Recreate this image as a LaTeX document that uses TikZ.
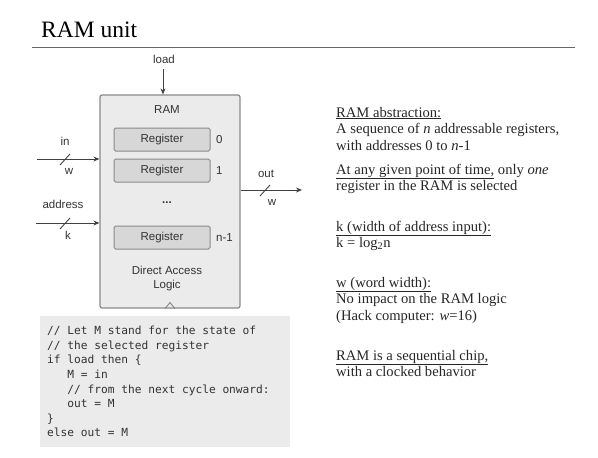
\documentclass[tikz,border=0pt]{standalone}
\usepackage{fontspec}
\setmainfont{Liberation Serif}
\newfontfamily\labelfont{Liberation Sans}
\newfontfamily\codefont{DejaVu Sans Mono}
\usetikzlibrary{arrows.meta}
\definecolor{boxfill}{HTML}{EBEBEB}
\definecolor{regfill}{HTML}{D7D7D7}
\definecolor{boxline}{HTML}{8A8A8A}
\definecolor{wirecol}{HTML}{404040}
\definecolor{lblcol}{HTML}{333333}
\newcommand{\noteblock}[1]{\begin{tabular}[t]{@{}l@{}}#1\end{tabular}}
\newcommand{\monospaces}{\spaceskip=0.602em\xspaceskip=0.602em\relax}
\tikzset{
  lbl/.style={font=\labelfont\fontsize{11.5}{13}\selectfont, text=lblcol, inner sep=0pt},
  regbox/.style={draw=boxline, fill=regfill, line width=1pt, rounded corners=1.5pt,
    minimum width=96pt, minimum height=23pt, lbl},
  wire/.style={draw=wirecol, line width=0.9pt, -{Stealth[length=6pt,width=5pt]}},
  slash/.style={draw=wirecol, line width=0.9pt},
  note/.style={font=\fontsize{14.6}{16.5}\selectfont, text=black!85,
    anchor=base west, inner sep=0pt}
}
\begin{document}
\begin{tikzpicture}[x=1pt, y=-1pt]
  \useasboundingbox (0,0) rectangle (598,458);
  % title
  \node[anchor=base west, inner sep=0pt, font=\fontsize{23.5}{26}\selectfont] (title) at (41,37) {RAM unit};
  \draw[draw=black!60, line width=1.8pt] (32,47.5) -- (575,47.5);
  % RAM chip
  \node[draw=boxline, fill=boxfill, line width=1.2pt, rounded corners=2pt,
    minimum width=140pt, minimum height=213pt, inner sep=0pt] (ram) at (170,201.5) {};
  \node[lbl] (ramlbl) at (167,110) {RAM};
  \node[regbox] (reg0) at (162,139.5) {Register};
  \node[regbox] (reg1) at (162,170.5) {Register};
  \node[regbox] (regn) at (162,237.5) {Register};
  \node[lbl, anchor=west] (idx0) at (216,139.5) {0};
  \node[lbl, anchor=west] (idx1) at (216,170.5) {1};
  \node[lbl, anchor=west] (idxn) at (216,237.5) {n-1};
  \node[lbl] (dots) at (167,203) {\textbf{...}};
  \node[lbl, align=center] (dal) at (167,278.5) {Direct Access\\[1pt]Logic};
  \draw[draw=boxline, line width=1pt] ([xshift=-5pt]ram.south) -- ++(5,-6) -- ++(5,6);
  % load
  \coordinate (loadT) at (163,69);
  \node[lbl] (loadlbl) at (164,59) {load};
  \draw[wire] (loadT) -- (loadT |- ram.north);
  % in
  \coordinate (inL) at (37,159);
  \draw[wire] (inL) -- (inL -| ram.west);
  \draw[slash] (60,165) -- (70,154);
  \node[lbl] (inlbl) at (65,141) {in};
  \node[lbl] (inw) at (69,171) {w};
  % address
  \coordinate (adrL) at (36,223);
  \draw[wire] (adrL) -- (adrL -| ram.west);
  \draw[slash] (60,229) -- (70,218);
  \node[lbl] (adrlbl) at (63,204) {address};
  \node[lbl] (adrk) at (68,235) {k};
  % out
  \coordinate (outR) at (302,190);
  \draw[wire] (outR -| ram.east) -- (outR);
  \draw[slash] (260,196) -- (270,185);
  \node[lbl] (outlbl) at (266,174) {out};
  \node[lbl] (outw) at (272,202) {w};
  % code
  \node[fill=boxfill, anchor=north west, minimum width=250pt, minimum height=131pt,
    text width=236pt, inner xsep=7pt, align=left, text=lblcol,
    font=\codefont\fontsize{11.2}{14.6}\selectfont] (code) at (40,316) {\monospaces
    // Let M stand for the state of\\
    // the selected register\\
    if load then \{\\
    \phantom{xxx}M = in\\
    \phantom{xxx}// from the next cycle onward:\\
    \phantom{xxx}out = M\\
    \}\\
    else out = M};
  % notes
  \node[note] (abstr) at (336,117) {\noteblock{\underline{RAM abstraction:}\\
    A sequence of \textit{n} addressable registers,\\
    with addresses 0 to \textit{n}-1}};
  \node[note] (select) at (336,174) {\noteblock{\underline{At any given point of time,} only \textit{one}\\
    register in the RAM is selected}};
  \node[note] (kwidth) at (336,231) {\noteblock{\underline{k (width of address input):}\\
    k = log\textsubscript{2}n}};
  \node[note] (wwidth) at (336,287) {\noteblock{\underline{w (word width):}\\
    No impact on the RAM logic\\
    (Hack computer: \textit{w}=16)}};
  \node[note] (seq) at (336,360) {\noteblock{\underline{RAM is a sequential chip,}\\
    with a clocked behavior}};
\end{tikzpicture}
\end{document}
